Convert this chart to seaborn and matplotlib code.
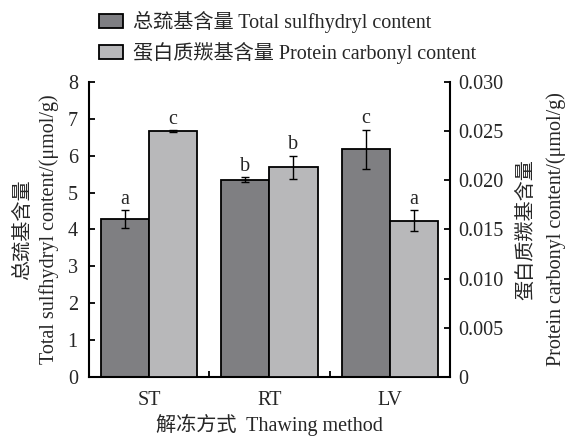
import numpy as np
import pandas as pd
import matplotlib
matplotlib.use("Agg")
import matplotlib.pyplot as plt
from matplotlib.patches import Patch
import seaborn as sns

# Data
methods = ["ST", "RT", "LV"]
sulfhydryl = [4.28, 5.35, 6.17]
sulfhydryl_err = [0.25, 0.06, 0.53]
sulfhydryl_letters = ["a", "b", "c"]
carbonyl = [0.0250, 0.0213, 0.0159]
carbonyl_err = [0.0001, 0.0012, 0.00105]
carbonyl_letters = ["c", "b", "a"]
series = ["总巯基含量 Total sulfhydryl content", "蛋白质羰基含量 Protein carbonyl content"]
colors = ["#7e7e82", "#b8b8ba"]
left_ticks = [0, 1, 2, 3, 4, 5, 6, 7, 8]
right_ticks = [0, 0.005, 0.010, 0.015, 0.020, 0.025, 0.030]
right_tick_labels = ["0", "0.005", "0.010", "0.015", "0.020", "0.025", "0.030"]

FS = 14.5

sns.set_theme(style="white")
plt.rcParams["font.family"] = ["Liberation Serif", "Noto Sans CJK SC"]
plt.rcParams["axes.unicode_minus"] = False

fig = plt.figure(figsize=(5.66, 4.4), dpi=100)
ax = fig.add_axes([0.157, 0.143, 0.638, 0.671])
ax2 = ax.twinx()

palette = dict(zip(series, colors))
df1 = pd.DataFrame({"method": methods, "value": sulfhydryl, "series": series[0]})
df2 = pd.DataFrame({"method": methods, "value": carbonyl, "series": series[1]})

bar_kw = dict(x="method", y="value", hue="series", hue_order=series, order=methods,
              palette=palette, width=0.8, dodge=True, errorbar=None,
              edgecolor="black", linewidth=1.3, legend=False)
sns.barplot(data=df1, ax=ax, **bar_kw)
sns.barplot(data=df2, ax=ax2, **bar_kw)


def annotate(axis, values, errs, letters):
    patches = [p for p in axis.patches if p.get_height() > 0]
    for p, v, e, t in zip(patches, values, errs, letters):
        xc = p.get_x() + p.get_width() / 2
        axis.errorbar(xc, v, yerr=e, fmt="none", ecolor="black",
                      elinewidth=1.0, capsize=3, capthick=1.0, zorder=5)
        axis.annotate(t, (xc, v + e), xytext=(0, 1), textcoords="offset points",
                      ha="center", va="bottom", fontsize=FS)


annotate(ax, sulfhydryl, sulfhydryl_err, sulfhydryl_letters)
annotate(ax2, carbonyl, carbonyl_err, carbonyl_letters)

ax.set_xlim(-0.5, 2.5)
ax.set_ylim(0, 8)
ax2.set_ylim(0, 0.030)

ax.set_yticks(left_ticks)
ax.set_yticklabels([str(t) for t in left_ticks])
ax2.set_yticks(right_ticks)
ax2.set_yticklabels(right_tick_labels)

ax.set_xticks(range(len(methods)))
ax.set_xticklabels(methods)
ax.set_xticks([0.5, 1.5], minor=True)
ax.tick_params(axis="x", which="major", length=0, pad=10, labelsize=FS)
ax.tick_params(axis="x", which="minor", direction="in", length=4, width=1.3,
               bottom=True, color="black")
ax.tick_params(axis="y", direction="in", length=4, width=1.3, left=True,
               right=False, labelsize=FS, color="black", pad=8)
ax2.tick_params(axis="y", direction="in", length=4, width=1.3, right=True,
                labelsize=FS, color="black", pad=6)

for a in (ax, ax2):
    a.spines["top"].set_visible(False)
    for s in a.spines.values():
        s.set_linewidth(1.5)
        s.set_color("black")
ax.spines["right"].set_visible(False)
ax2.spines["left"].set_visible(False)
ax2.spines["bottom"].set_visible(False)

ax.set_xlabel("解冻方式  Thawing method", fontsize=FS, labelpad=3)
ax.set_ylabel("总巯基含量\nTotal sulfhydryl content/(μmol/g)", fontsize=FS,
              labelpad=6, linespacing=1.45)
ax2.set_ylabel("蛋白质羰基含量\nProtein carbonyl content/(μmol/g)", fontsize=FS,
               labelpad=10, linespacing=1.65, rotation=90)

handles = [Patch(facecolor=c, edgecolor="black", linewidth=1.3) for c in colors]
fig.legend(handles, series, loc="upper left", bbox_to_anchor=(0.155, 1.0),
           frameon=False, fontsize=FS, handlelength=1.2, handleheight=0.7,
           handletextpad=0.5, labelspacing=0.45, borderaxespad=0.15)

fig.savefig("out.png", dpi=100)
